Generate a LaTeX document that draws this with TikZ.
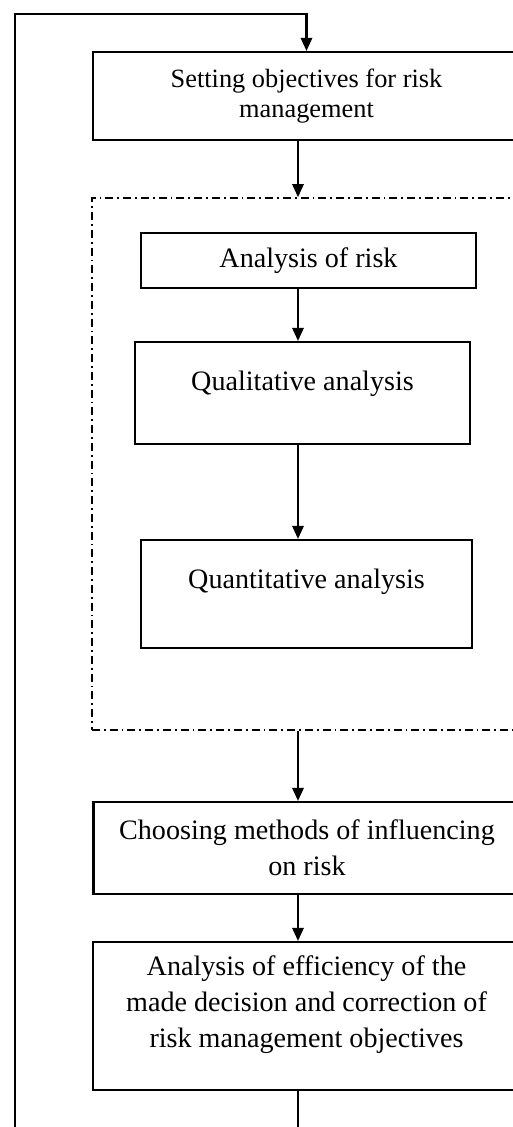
\documentclass[tikz,border=0pt]{standalone}
\usepackage{fontspec}
\setmainfont{Liberation Serif}
\usetikzlibrary{arrows.meta}

\begin{document}
\begin{tikzpicture}[->,>={Triangle[length=7.5pt,width=6.5pt]},line width=1.2pt]
\tikzstyle{every node}=[draw=black,text=black,align=center,inner sep=0pt,font=\fontsize{16}{20.5}\selectfont]
\tikzstyle{wide}=[minimum width=8.54cm]
\tikzstyle{inner}=[minimum width=6.70cm]
\useasboundingbox (0,0) rectangle (10.26,-22.54);
\fill[white,-] (0,0) rectangle (10.26,-22.54);
\clip (0,0) rectangle (10.26,-22.54);
\node[wide,minimum height=1.76cm,font=\fontsize{15}{17}\selectfont] (setobj) at (6.13,-1.92) {Setting objectives for risk\\management};
\node[minimum width=8.56cm,minimum height=10.64cm,line width=0.9pt,dash pattern=on 4.5pt off 2.3pt on 1pt off 2.3pt] (group) at (6.12,-9.28) {};
\node[inner,minimum height=1.10cm] (anrisk) at (6.17,-5.21) {Analysis of risk};
\node[inner,text height=0.96cm,text depth=1.08cm] (qual) at (6.05,-7.86) {Qualitative analysis};
\node[inner,minimum width=6.62cm,text height=0.96cm,text depth=1.20cm] (quant) at (6.13,-11.88) {Quantitative analysis};
\node[wide,minimum height=1.84cm] (choose) at (6.14,-16.96) {Choosing methods of influencing\\on risk};
\node[wide,minimum height=2.96cm] (effic) at (6.13,-20.32) {Analysis of efficiency of the\\made decision and correction of\\risk management objectives\rule[-0.58cm]{0pt}{0.1cm}};
\coordinate (axis) at (5.96,0);
\coordinate (back) at (0.30,-0.28);
\draw (setobj.south -| axis) -- (group.north -| axis);
\draw (anrisk.south -| axis) -- (qual.north -| axis);
\draw (qual.south -| axis) -- (quant.north -| axis);
\draw (group.south -| axis) -- (choose.north -| axis);
\draw (choose.south -| axis) -- (effic.north -| axis);
% back to the objectives
\draw (effic.south -| axis) -- ++(0,-1) -| (back) -| (setobj.north);
\end{tikzpicture}
\end{document}
